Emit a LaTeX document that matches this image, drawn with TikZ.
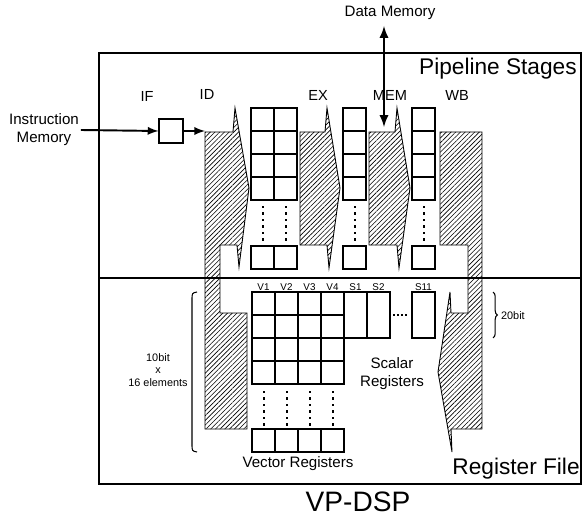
\documentclass[tikz,border=0pt]{standalone}
\usepackage{fontspec}
\setmainfont{Liberation Sans}
\usetikzlibrary{patterns.meta,decorations.pathreplacing}

\begin{document}
\begin{tikzpicture}[x=0.02cm, y=-0.02cm, >=latex,
    lbl/.style={inner sep=1pt, font=\fontsize{8.6}{10.2}\selectfont, align=center},
    stage/.style={inner sep=1pt, font=\fontsize{8.3}{10}\selectfont},
    tinylbl/.style={inner sep=0.5pt, font=\fontsize{5.6}{6.5}\selectfont},
    small/.style={inner sep=1pt, font=\fontsize{6.2}{7.3}\selectfont, align=center},
    big/.style={inner sep=0pt, font=\fontsize{12.9}{15}\selectfont},
    latch/.style={draw, line width=0.5pt, pattern={Lines[angle=45, distance=1.9pt, line width=0.35pt]}},
    cell/.style={draw, line width=0.6pt},
    boldcell/.style={draw, line width=1.3pt},
    wire/.style={line width=1.1pt}]
  \useasboundingbox (0,0) rectangle (582,517);

  \draw[latch] (205,132) -- (233,132) -- (235,108) -- (249,188) -- (239,267) -- (237,245) -- (220,245)
    -- (220,313) -- (247,313) -- (247,429) -- (205,429) -- cycle;
  \foreach \x/\w in {300/25, 369/26}
    \draw[latch] (\x,132) -- (\x+\w,132) -- (\x+\w+2,108) -- (\x+\w+15,188) -- (\x+\w+4,268)
      -- (\x+\w+2,245) -- (\x,245) -- cycle;
  \draw[latch] (440,132) -- (482,132) -- (482,429) -- (451,429) -- (452,452) -- (438,372) -- (450,292)
    -- (451,313) -- (468,313) -- (468,245) -- (440,245) -- cycle;

  \foreach \x/\n in {251/2, 343/1, 412/1}
    \foreach \c in {1,...,\n} {
      \pgfmathsetmacro{\xa}{\x+23*(\c-1)}
      \draw[cell] (\xa,154) rectangle +(23,23) (\xa,177) rectangle +(23,23) (\xa,246) rectangle +(23,23);
      \draw[boldcell] (\xa,108) rectangle +(23,23) (\xa,131) rectangle +(23,23);
      \foreach \k in {0,...,5}
        \fill (\xa+11.5,207+6.5*\k) +(-1,-1.2) rectangle +(1,1.2);
    }

  \foreach \c in {1,...,4} {
    \pgfmathsetmacro{\xa}{252+23*(\c-1)}
    \foreach \r in {0,...,3}
      \draw[cell] (\xa,292+23*\r) rectangle +(23,23);
    \draw[cell] (\xa,429) rectangle +(23,23);
    \foreach \k in {0,...,5}
      \fill (\xa+11.5,392+6.5*\k) +(-1,-1.2) rectangle +(1,1.2);
    \node[tinylbl] (lab-V\c) at (\xa+11.5,287) {V\c};
  }
  \foreach \x/\s in {344/S1, 367/S2, 412/S11} {
    \draw[boldcell] (\x,292) rectangle +(23,46);
    \node[tinylbl] (lab-\s) at (\x+11.5,287) {\s};
  }
  \foreach \k in {0,...,3}
    \fill (394+4*\k,315) +(-1,-1) rectangle +(1,1);

  \draw[line width=1.1pt] (99,53) rectangle (581,484);
  \draw[line width=0.9pt] (99,278) -- (581,278);

  \node[lbl] (imem) at (44,130) {Instruction\\Memory};
  \node[draw, line width=0.6pt, minimum size=0.48cm, inner sep=0pt] (ifreg) at (171,131) {};
  \coordinate (idin) at (205,131);
  \draw[wire, ->] (imem.east) -- (ifreg.west);
  \draw[wire, ->] (ifreg.east) -- (idin);

  \node[lbl] (dmem) at (390,13) {Data Memory};
  \coordinate (dmemport) at (384,26);
  \coordinate (memport) at (384,127);
  \draw[line width=1.3pt, <->] (dmemport) -- (memport);

  \foreach \s/\x/\y in {IF/147/96, ID/207/94, EX/318/95, MEM/390/95, WB/457/95}
    \node[stage] (st-\s) at (\x,\y) {\s};

  \node[big, anchor=east] (pipe) at (577,69) {Pipeline Stages};
  \node[big, anchor=east] (rf) at (580,469) {Register File};
  \node[inner sep=0pt, font=\fontsize{16}{18}\selectfont] (dsp) at (358,502) {VP-DSP};

  \node[lbl] (sreg) at (392,374) {Scalar\\Registers};
  \node[lbl] (vreg) at (298,464) {Vector Registers};
  \node[small] (width) at (158,370) {10bit\\x\\16 elements};
  \node[small, anchor=west] (bits) at (499,316) {20bit};

  \draw[line width=0.6pt] (197,292) .. controls (192,293) .. (192,300) -- (192,444) .. controls (192,451) .. (197,452);
  \draw[line width=0.6pt, decorate, decoration={brace, amplitude=2.5pt}] (493,292) -- (493,338);
\end{tikzpicture}
\end{document}
